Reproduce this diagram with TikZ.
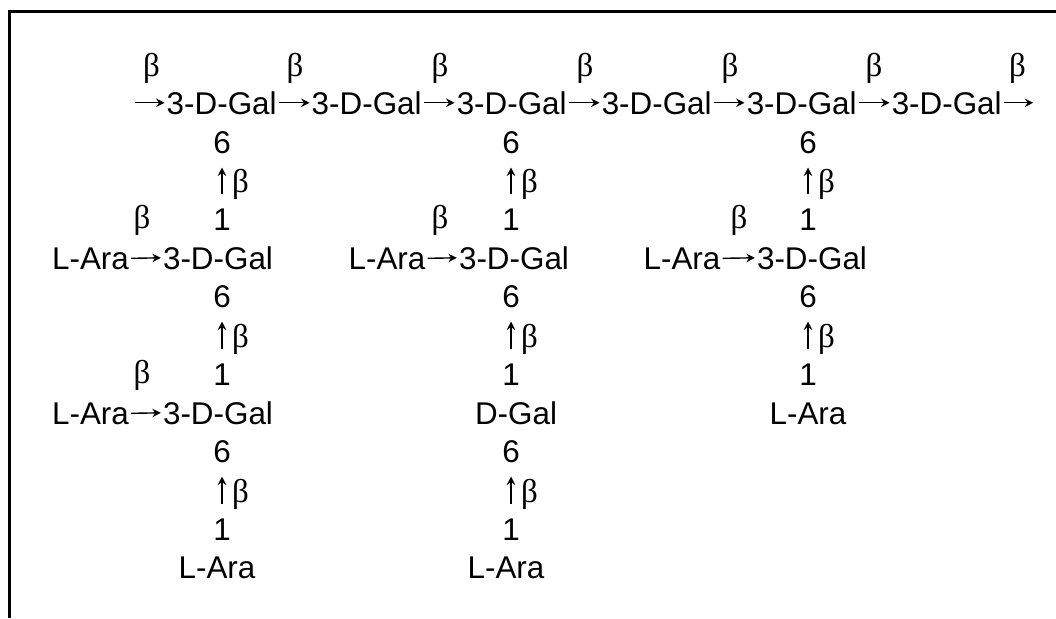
\documentclass[tikz,border=0pt]{standalone}
\usepackage{fontspec}
\setmainfont{Liberation Sans}
\newfontfamily\greekfont{Liberation Serif}
\usetikzlibrary{arrows.meta}

\begin{document}
\begin{tikzpicture}[x=1pt,y=-1pt,
  sugar/.style={inner sep=0pt, anchor=base, font=\fontsize{31.4}{36}\selectfont},
  beta/.style={inner sep=0pt, anchor=base, font=\greekfont\fontsize{33}{38}\selectfont},
  betaside/.style={beta, anchor=base west},
  link/.style={line width=1.4pt, -{Stealth[length=8.5pt,width=8.5pt,inset=3pt]}},
  hlink/.style={link, shorten <=2pt, shorten >=2pt},
  vlink/.style={link, shorten <=14pt, shorten >=14pt},
  frame/.style={line width=3pt}]

\useasboundingbox (0,0) rectangle (1056,618);
\draw[frame] (1056,12) -- (9,12) -- (9,618);

% backbone of 3-linked galactose units
\foreach \i in {1,...,6}
  \node[sugar] (g\i) at ({221.7+145*(\i-1)},114) {3-D-Gal};
\coordinate (in) at ([xshift=-31.7pt]g1.west);
\coordinate (out) at ([xshift=31.3pt]g6.east);
\draw[link, shorten >=2pt] (in) -- (g1.west);
\foreach \i/\j in {1/2,2/3,3/4,4/5,5/6}
  \draw[hlink] (g\i.east) -- (g\j.west);
\draw[link, shorten <=2pt] (g6.east) -- (out);
\foreach \x [count=\k] in {151.5,295,440,585,730,874,1017.4}
  \node[beta] (gb\k) at (\x,76) {β};

% first side chain
\node[sugar] (a6) at (222,153) {6};
\node[sugar] (a1) at (222,230) {1};
\draw[vlink] (a1.north) -- (a6.south);
\node[betaside] (ab1) at (232,192) {β};
\node[beta] (ab2) at (142,228) {β};
\node[sugar] (aA) at (90.5,269) {L-Ara};
\node[sugar] (aG) at (218,269) {3-D-Gal};
\draw[hlink] (aA.east) -- (aG.west);

\node[sugar] (b6) at (222,307) {6};
\node[sugar] (b1) at (222,385) {1};
\draw[vlink] (b1.north) -- (b6.south);
\node[betaside] (bb1) at (232,347) {β};
\node[beta] (bb2) at (142,383) {β};
\node[sugar] (bA) at (90.5,424) {L-Ara};
\node[sugar] (bG) at (218,424) {3-D-Gal};
\draw[hlink] (bA.east) -- (bG.west);

\node[sugar] (c6) at (222,462) {6};
\node[sugar] (c1) at (222,540) {1};
\draw[vlink] (c1.north) -- (c6.south);
\node[betaside] (cb1) at (232,502) {β};
\node[sugar] (cA) at (217,578) {L-Ara};

% second side chain
\node[sugar] (d6) at (511,153) {6};
\node[sugar] (d1) at (511,230) {1};
\draw[vlink] (d1.north) -- (d6.south);
\node[betaside] (db1) at (521,192) {β};
\node[beta] (db2) at (440,228) {β};
\node[sugar] (dA) at (387,269) {L-Ara};
\node[sugar] (dG) at (514,269) {3-D-Gal};
\draw[hlink] (dA.east) -- (dG.west);

\node[sugar] (e6) at (511,307) {6};
\node[sugar] (e1) at (511,385) {1};
\draw[vlink] (e1.north) -- (e6.south);
\node[betaside] (eb1) at (521,347) {β};
\node[sugar] (eG) at (516,424) {D-Gal};

\node[sugar] (f6) at (511,462) {6};
\node[sugar] (f1) at (511,540) {1};
\draw[vlink] (f1.north) -- (f6.south);
\node[betaside] (fb1) at (521,502) {β};
\node[sugar] (fA) at (506,578) {L-Ara};

% third side chain
\node[sugar] (h6) at (808,153) {6};
\node[sugar] (h1) at (808,230) {1};
\draw[vlink] (h1.north) -- (h6.south);
\node[betaside] (hb1) at (818,192) {β};
\node[beta] (hb2) at (739,228) {β};
\node[sugar] (hA) at (682,269) {L-Ara};
\node[sugar] (hG) at (812,269) {3-D-Gal};
\draw[hlink] (hA.east) -- (hG.west);

\node[sugar] (k6) at (808,307) {6};
\node[sugar] (k1) at (808,385) {1};
\draw[vlink] (k1.north) -- (k6.south);
\node[betaside] (kb1) at (818,347) {β};
\node[sugar] (kA) at (808,424) {L-Ara};
\end{tikzpicture}
\end{document}
